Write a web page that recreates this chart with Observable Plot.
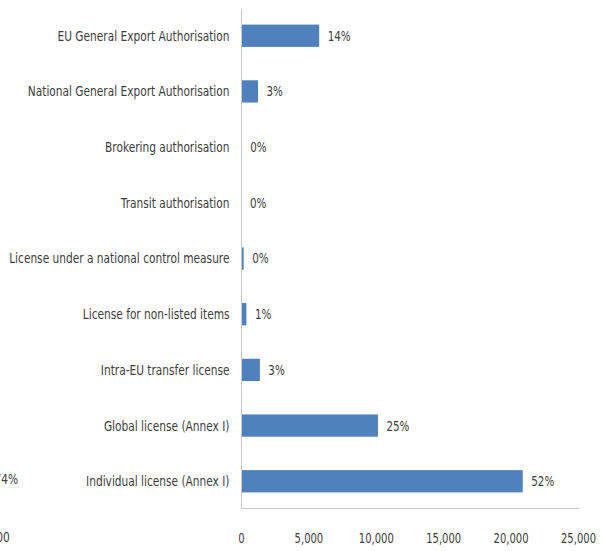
<!DOCTYPE html>
<html>
<head>
<meta charset="utf-8">
<script src="https://cdn.jsdelivr.net/npm/d3@7"></script>
<script src="https://cdn.jsdelivr.net/npm/@observablehq/plot@0.6"></script>
<style>
  html, body { margin: 0; padding: 0; background: #fff; overflow: hidden; }
  #wrap { position: relative; width: 604px; height: 551px; }
  .frag { position: absolute; font-family: "DejaVu Sans", sans-serif; font-size: 14px; color: #404040; transform: scaleX(0.76); transform-origin: right center; }
</style>
</head>
<body>
<div id="wrap">
  <div class="frag" style="right:586px; top:471px;">74%</div>
  <div class="frag" style="right:594px; top:529px;">000</div>
</div>
<script>
const categories = [
  "EU General Export Authorisation",
  "National General Export Authorisation",
  "Brokering authorisation",
  "Transit authorisation",
  "License under a national control measure",
  "License for non-listed items",
  "Intra-EU transfer license",
  "Global license (Annex I)",
  "Individual license (Annex I)"
];
const counts = [5800, 1260, 50, 40, 200, 400, 1400, 10160, 20900];
const shares = ["14%", "3%", "0%", "0%", "0%", "1%", "3%", "25%", "52%"];
const xTicks = [0, 5000, 10000, 15000, 20000, 25000];

const data = categories.map((c, i) => ({category: c, count: counts[i], share: shares[i]}));
const font = `"DejaVu Sans", sans-serif`;

const chart = Plot.plot({
  width: 604,
  height: 551,
  marginLeft: 241,
  marginRight: 26,
  marginTop: 9,
  marginBottom: 43,
  style: {fontFamily: font, fontSize: "14px", color: "#404040", background: "#fff"},
  x: {domain: [0, 25000], ticks: xTicks, tickFormat: d3.format(","), label: null},
  y: {domain: categories, paddingInner: 0.6, paddingOuter: 0.28, round: false, label: null},
  marks: [
    Plot.barX(data, {y: "category", x: "count", fill: "#4f81bd"}),
    Plot.text(data, {y: "category", x: "count", text: "share", dx: 8, textAnchor: "start", fill: "#404040", fontSize: 14}),
    Plot.frame({anchor: "left", stroke: "#c8c8c8"}),
    Plot.frame({anchor: "bottom", stroke: "#c8c8c8"}),
    Plot.axisX({ticks: xTicks, tickFormat: d3.format(","), tickSize: 0, tickPadding: 25, fontSize: 14, label: null}),
    Plot.axisY({tickSize: 0, tickPadding: 12, fontSize: 14, label: null})
  ]
});
document.getElementById("wrap").appendChild(chart);

// Narrow the glyphs to mimic the condensed look of the original
const texts = Array.from(chart.querySelectorAll("text"));
const lenOf = t => t.getComputedTextLength();
const ref = (str, w, fallback) => {
  const t = texts.find(e => e.textContent === str);
  const l = t ? lenOf(t) : 0;
  return l > 0 ? w / l : fallback;
};
const sLab = ref(categories[0], 172, 0.84);
const sNum = ref("25,000", 35, 0.74);
const sPct = ref("52%", 23, 0.76);
texts.forEach(t => {
  const str = t.textContent;
  const s = /%$/.test(str) ? sPct : /^[\d,]+$/.test(str) ? sNum : sLab;
  const len = lenOf(t);
  if (len > 0) {
    t.setAttribute("textLength", (len * s).toFixed(1));
    t.setAttribute("lengthAdjust", "spacingAndGlyphs");
  }
});
</script>
</body>
</html>
